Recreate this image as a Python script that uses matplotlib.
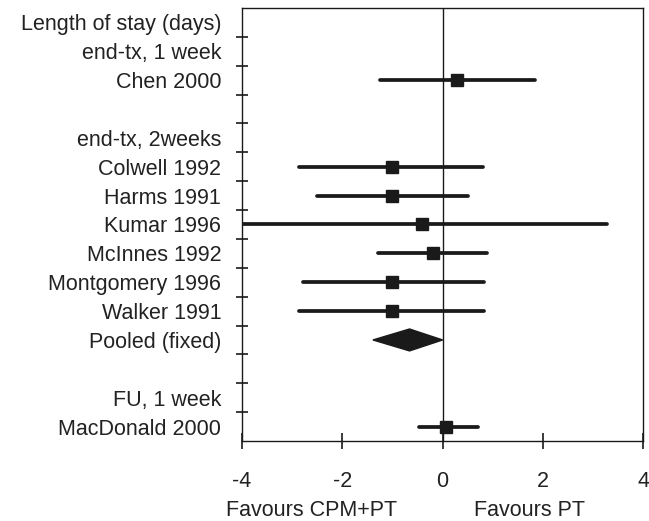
import matplotlib.pyplot as plt
import numpy as np

plt.rcParams['font.family'] = ['Liberation Sans', 'DejaVu Sans']

# row labels, top to bottom
labels = ['Length of stay (days)', 'end-tx, 1 week', 'Chen 2000', '',
          'end-tx, 2weeks', 'Colwell 1992', 'Harms 1991', 'Kumar 1996',
          'McInnes 1992', 'Montgomery 1996', 'Walker 1991', 'Pooled (fixed)',
          '', 'FU, 1 week', 'MacDonald 2000']

# individual studies: row, estimate, lower, upper
study_rows = [3, 6, 7, 8, 9, 10, 11, 15]
est = [0.28, -1.0, -1.01, -0.41, -0.2, -1.0, -1.0, 0.07]
lo = [-1.25, -2.86, -2.51, -4.3, -1.29, -2.79, -2.86, -0.48]
hi = [1.85, 0.81, 0.5, 3.28, 0.89, 0.82, 0.82, 0.71]

# pooled estimate (fixed)
pool_row = 12
pool_est = -0.66
pool_lo = -1.39
pool_hi = 0.0

ink = '#1a1a1a'
txt = '#222222'
fs = 15.5

fig = plt.figure(figsize=(6.49, 5.21), dpi=100)
ax = fig.add_axes([0.373, 0.1536, 0.618, 0.8310])

rows = np.arange(1, len(labels) + 1)

for r, e, l, h in zip(study_rows, est, lo, hi):
    ax.plot([l, h], [r, r], color=ink, lw=2.7, solid_capstyle='round', zorder=3)
    ax.plot(e, r, marker='s', ms=9, color=ink, zorder=4)

# diamond for pooled
dh = 0.38
ax.fill([pool_lo, pool_est, pool_hi, pool_est], [pool_row, pool_row - dh, pool_row, pool_row + dh],
        color=ink, zorder=4)

ax.axvline(0, color=ink, lw=1.0, zorder=2)

ax.set_xlim(-4, 4)
ax.set_ylim(len(labels) + 0.5, 0.5)
ax.set_xticks([-4, -2, 0, 2, 4])
ax.set_xticklabels(['-4', '-2', '0', '2', '4'])

ax.set_yticks(np.arange(1.5, len(labels), 1.0))
ax.set_yticklabels([])
ax.set_yticks(rows, labels, minor=True)
ax.tick_params(axis='y', which='minor', length=0, pad=15, labelsize=fs, labelcolor=txt)
ax.tick_params(axis='y', which='major', direction='inout', length=8, width=1.2, color=ink)
ax.tick_params(axis='x', direction='inout', length=11, width=1.2, color=ink,
               labelsize=fs, labelcolor=txt, pad=16)

for s in ax.spines.values():
    s.set_linewidth(1.0)
    s.set_color(ink)

trans = ax.get_xaxis_transform()
ax.text(-2.62, -0.16, 'Favours CPM+PT', transform=trans, ha='center', va='center',
        fontsize=fs, color=txt)
ax.text(1.74, -0.16, 'Favours PT', transform=trans, ha='center', va='center',
        fontsize=fs, color=txt)

plt.savefig('out.png', dpi=100)
